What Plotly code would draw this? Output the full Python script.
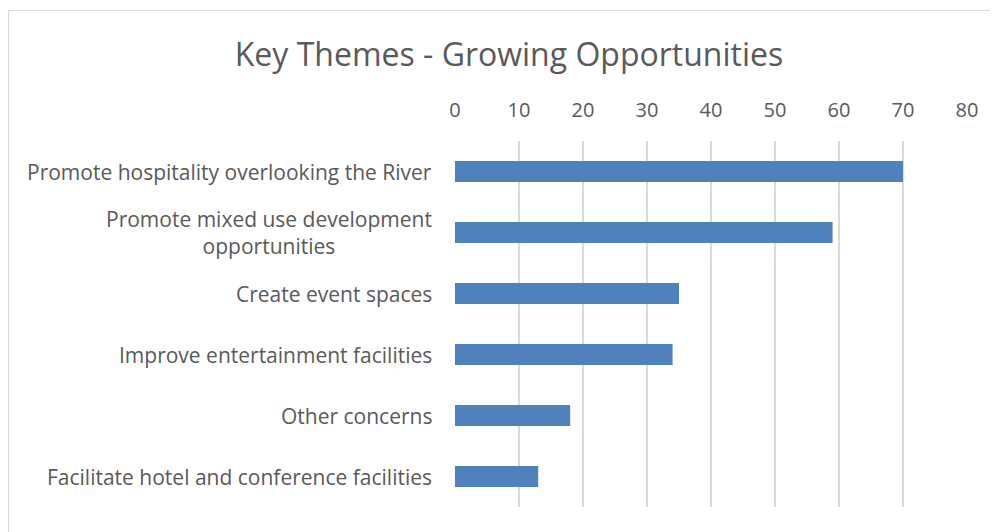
import plotly.graph_objects as go

categories = [
    "Promote hospitality overlooking the River",
    "Promote mixed use development<br>opportunities",
    "Create event spaces",
    "Improve entertainment facilities",
    "Other concerns",
    "Facilitate hotel and conference facilities",
]
values = [70, 59, 35, 34, 18, 13]
tick_vals = [0, 10, 20, 30, 40, 50, 60, 70, 80]

# page has an 8px body margin; figure coordinates are screen - 8
W, H = 990, 524
ML, MR, MT, MB = 447, 31, 133, 25
PW, PH = W - ML - MR, H - MT - MB

def px_x(p):
    return (p - ML) / PW

def px_y(p):
    return (H - MB - p) / PH

FONT = "Open Sans"
TXT = "#595959"
GRID = "#d9d9d9"

fig = go.Figure(go.Bar(
    x=values, y=categories, orientation="h",
    marker=dict(color="#4f81bd", line=dict(width=0)),
    width=0.345,
))

fig.update_layout(
    width=W, height=H,
    margin=dict(l=ML, r=MR, t=MT, b=MB),
    paper_bgcolor="white", plot_bgcolor="white",
    showlegend=False,
    title=dict(text="Key Themes - Growing Opportunities",
               x=501 / W, xanchor="center", y=1 - 47 / H, yanchor="middle",
               font=dict(family=FONT, size=32, color=TXT)),
    font=dict(family=FONT, color=TXT),
)

fig.update_xaxes(
    side="top", range=[0, 80], tickvals=tick_vals,
    showgrid=True, gridcolor=GRID, gridwidth=1.5,
    zeroline=False, showline=False,
    ticks="outside", ticklen=15, tickcolor="rgba(0,0,0,0)",
    tickfont=dict(family=FONT, size=20, color=TXT),
)
fig.update_yaxes(
    autorange="reversed", showticklabels=False, showgrid=False,
    zeroline=False, showline=False,
)

for c in categories:
    fig.add_annotation(
        x=px_x(426), xref="paper", xanchor="right",
        y=c, yref="y", yanchor="middle",
        text=c, align="center", showarrow=False,
        font=dict(family=FONT, size=21, color=TXT),
    )

fig.add_shape(type="rect", xref="paper", yref="paper",
              x0=px_x(0.5), x1=px_x(1000), y0=px_y(540), y1=px_y(2.5),
              line=dict(color=GRID, width=1), fillcolor="rgba(0,0,0,0)",
              layer="below")

fig.write_html("out.html")
